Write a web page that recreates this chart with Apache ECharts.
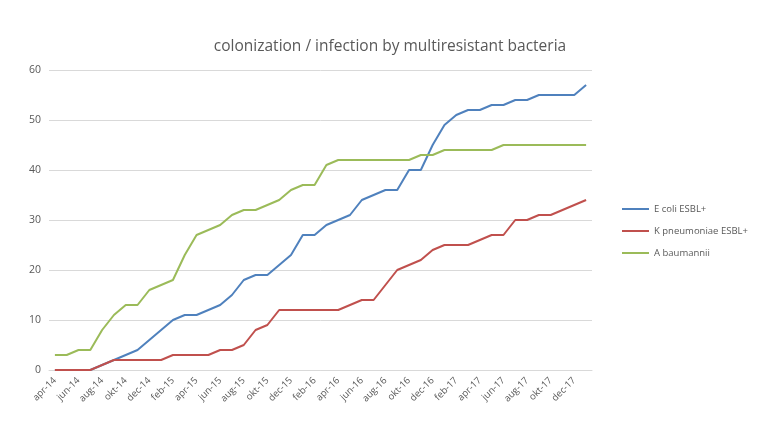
<!DOCTYPE html>
<html>
<head>
<meta charset="utf-8">
<script src="https://cdn.jsdelivr.net/npm/echarts@6/dist/echarts.min.js"></script>
<style>
    html, body { margin: 0; padding: 0; background: #fff; }
    #chart { width: 759px; height: 424px; }
</style>
</head>
<body>
<div id="chart"></div>
<script>
// maanden apr-14 t/m jan-18
const months = [
    'apr-14', 'mei-14', 'jun-14', 'jul-14', 'aug-14', 'sep-14', 'okt-14', 'nov-14', 'dec-14',
    'jan-15', 'feb-15', 'mrt-15', 'apr-15', 'mei-15', 'jun-15', 'jul-15', 'aug-15', 'sep-15', 'okt-15', 'nov-15', 'dec-15',
    'jan-16', 'feb-16', 'mrt-16', 'apr-16', 'mei-16', 'jun-16', 'jul-16', 'aug-16', 'sep-16', 'okt-16', 'nov-16', 'dec-16',
    'jan-17', 'feb-17', 'mrt-17', 'apr-17', 'mei-17', 'jun-17', 'jul-17', 'aug-17', 'sep-17', 'okt-17', 'nov-17', 'dec-17',
    'jan-18'
];

const eColi = [
    0, 0, 0, 0, 1, 2, 3, 4, 6, 8, 10, 11, 11, 12, 13, 15, 18, 19, 19, 21, 23, 27, 27, 29, 30,
    31, 34, 35, 36, 36, 40, 40, 45, 49, 51, 52, 52, 53, 53, 54, 54, 55, 55, 55, 55, 57
];
const kPneumoniae = [
    0, 0, 0, 0, 1, 2, 2, 2, 2, 2, 3, 3, 3, 3, 4, 4, 5, 8, 9, 12, 12, 12, 12, 12, 12,
    13, 14, 14, 17, 20, 21, 22, 24, 25, 25, 25, 26, 27, 27, 30, 30, 31, 31, 32, 33, 34
];
const aBaumannii = [
    3, 3, 4, 4, 8, 11, 13, 13, 16, 17, 18, 23, 27, 28, 29, 31, 32, 32, 33, 34, 36, 37, 37, 41, 42,
    42, 42, 42, 42, 42, 42, 43, 43, 44, 44, 44, 44, 44, 45, 45, 45, 45, 45, 45, 45, 45
];

const seriesNames = ['E coli ESBL+', 'K pneumoniae ESBL+', 'A baumannii'];
const seriesColors = ['#4f81bd', '#c0504d', '#9bbb59'];
const yTicks = { min: 0, max: 60, interval: 10 };

const textColor = '#595959';
const chart = echarts.init(document.getElementById('chart'));

const option = {
    animation: false,
    backgroundColor: '#fff',
    textStyle: { fontFamily: 'Open Sans, Liberation Sans, sans-serif' },
    title: {
        text: 'colonization / infection by multiresistant bacteria',
        left: 385,
        textAlign: 'center',
        top: 34,
        textStyle: {
            color: textColor,
            fontSize: 15.5,
            fontWeight: 'normal'
        }
    },
    legend: {
        orient: 'vertical',
        left: 617,
        top: 199,
        icon: 'rect',
        itemWidth: 27,
        itemHeight: 2,
        itemGap: 12,
        textStyle: { color: textColor, fontSize: 9.5 },
        data: seriesNames
    },
    grid: {
        left: 49,
        right: 167,
        top: 70,
        bottom: 54
    },
    xAxis: {
        type: 'category',
        boundaryGap: true,
        data: months,
        axisLine: { lineStyle: { color: '#d9d9d9' } },
        axisTick: { show: false },
        axisLabel: {
            interval: 1,
            rotate: 45,
            color: textColor,
            fontSize: 9.5,
            margin: 9
        }
    },
    yAxis: {
        type: 'value',
        min: yTicks.min,
        max: yTicks.max,
        interval: yTicks.interval,
        axisLine: { show: false },
        axisTick: { show: false },
        axisLabel: { color: textColor, fontSize: 10.5, margin: 8 },
        splitLine: { lineStyle: { color: '#d9d9d9' } }
    },
    series: [eColi, kPneumoniae, aBaumannii].map((vals, i) => ({
        name: seriesNames[i],
        type: 'line',
        data: vals,
        showSymbol: false,
        lineStyle: { width: 2, color: seriesColors[i] },
        itemStyle: { color: seriesColors[i] }
    }))
};

chart.setOption(option);
</script>
</body>
</html>
